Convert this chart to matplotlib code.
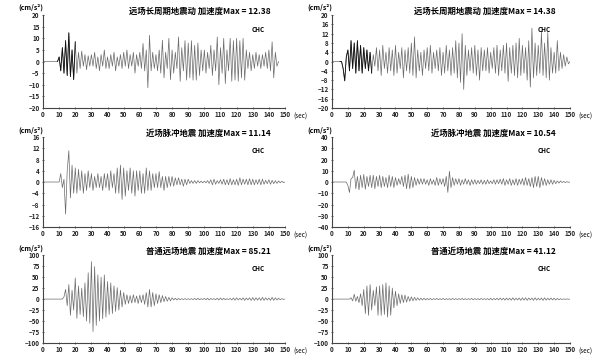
import numpy as np
import matplotlib
matplotlib.use('Agg')
import matplotlib.pyplot as plt

# CJK title text needs a CJK font, DejaVu as fallback
plt.rcParams['font.family'] = ['Noto Sans CJK SC', 'DejaVu Sans']

# waveform peaks: start time (s), one peak every 1 s
dt = 1.0

start_1 = 10
acc_1 = [2, -4, 6, -5, 9, -6, 12.38, -6.5, 5, -7.8,
         8.5, -5, 4, -3, 4.5, -2, 3, -3.5, 2.5, -2,
         3, -2, 4, -3, 2, -4, 3, -2, 5, -3,
         2, -3, 3, -2, 4, -4, 2, -2, 3, -3,
         4, -2, 5, -3, 3, -2, 4, -5, 3, -2,
         4, -3, 7.8, -4, 5, -11.3, 11.3, -4, 4, -3,
         3, -4, 5, -5, 9.2, -7, 4, -3, 10, -7.8,
         5, -5, 4, -3, 10.6, -8.5, 6, -4, 9, -8,
         8, -7, 9, -8, 7, -8, 8, -6, 5, -4,
         5, -5, 4, -3, 7, -6, 5, -4, 10.6, -10,
         6, -5, 10, -9.5, 5, -4, 10, -8.5, 9, -8,
         10, -8.5, 9, -7, 10, -8, 5, -3, 4, -4,
         3, -3, 4, -2, 3, -3, 3, -2, 4, -3,
         5, -4, 8.5, -7, 4, -2, 0]

start_2 = 6
acc_2 = [0, -3, -8.3, 2, 5, -4, 9, -3, 8, -5,
         9, -4, 7, -5, 6, -3, 5, -4, 4, -5,
         3, -2, 6, -4, 5, -6, 7, -3, 4, -5,
         6, -4, 5, -6, 7, -5, 4, -3, 6, -7,
         5, -4, 6, -5, 8, -6, 10.6, -7, 5, -4,
         4, -6, 5, -3, 6, -4, 7, -5, 4, -3,
         5, -4, 6, -6, 4, -5, 7, -4, 5, -6,
         6, -5, 9, -7, 8, -9, 12, -12, 7, -6,
         5, -4, 6, -5, 7, -6, 5, -8, 6, -4,
         5, -4, 6, -5, 4, -3, 6, -5, 7, -6,
         5, -4, 7, -5, 8, -8.5, 6, -5, 7, -6,
         8, -7, 10, -6, 7, -5, 6, -8, 9, -11,
         14.38, -7, 8, -6, 7, -5, 12.7, -6, 8, -7,
         12.5, -8, 6, -5, 4, -5, 9, -4, 4, -3,
         3, -2, 2, -1, 0]

start_3 = 10
acc_3 = [0, 3, -2, 1, -11.4, 4, 11.14, -5.6, 6, -4,
         5, -4, 4.5, -3, 4, -4, 3, -3, 4, -2,
         3, -3, 2, -2, 3, -2, 2, -3, 3, -2,
         3, -3, 4, -2, 3, -4, 5, -4, 6, -6.2,
         5, -5, 4, -3, 5, -4, 4, -5, 4, -3,
         4, -4, 3, -4, 5, -3, 4, -3, 3, -2,
         3, -2, 3.7, -2, 2, -3, 2, -2, 2, -1.5,
         2, -1.5, 1.5, -1, 1.5, -1, 1, -1.5, 1, -1,
         1, -0.5, 0.5, -0.5, 0.5, -0.5, 0.5, -0.3, 0.3, -0.3,
         0.3, -0.3, 0.5, -0.5, 0.8, -1, 1, -0.8, 0.5, -0.5,
         0.8, -0.8, 1, -1, 0.8, -1, 1.2, -1, 0.8, -1,
         1, -1.2, 1.5, -1, 1, -0.8, 1, -1, 1.2, -1,
         1, -1, 0.8, -0.8, 1, -1, 1, -0.8, 0.6, -0.6,
         0.8, -0.8, 0.6, -0.6, 0.5, -0.5, 0.4, -0.3, 0.3, -0.2, 0]

start_4 = 9
acc_4 = [0, -3, -9.3, 3, 4, 10.54, -6, 5, -7, 6,
         -5, 6.7, -6.4, 5, -4, 6, -5, 6, -6, 5,
         -4, 6, -5, 5, -4, 4, -5, 6, -4, 5,
         -5, 4, -3, 3, -2, 5, -4, 6, -6, 7,
         -6, 5, -5, 4, -3, 3, -2, 3, -2, 3,
         -2, 2, -3, 3, -2, 2, -3, 4, -3, 3,
         -2, 3, -4, 5, -9.3, 9.6, -5, 4, -3, 3,
         -2, 3, -3, 2, -2, 3, -2, 2, -3, 2,
         -2, 2, -2, 1.5, -1.5, 2, -2, 1.5, -2, 2,
         -1.5, 1, -1.5, 2, -2, 2, -1.5, 2.5, -2, 3,
         -3, 2, -2, 3, -3, 2, -2.5, 3, -3, 2.5,
         -2, 3, -3, 4, -3, 3, -4, 4, -5, 5,
         -4, 5, -5, 4, -3, 3, -3, 2, -2, 2,
         -2, 1.5, -1.5, 1, -1, 1, -0.5, 0.5, -0.5, 0.3,
         -0.2, 0]

start_5 = 12
acc_5 = [0, 5, 22, -15, 33, -37, 20, -25, 48, -44,
         30, -35, 25, -40, 37, -50, 60, -55, 85.21, -74,
         74, -60, 55, -50, 50, -45, 55, -41, 40, -35,
         37, -33, 30, -28, 26, -25, 20, -18, 15, -12,
         10, -10, 8, -9, 10, -8, 7, -10, 9, -8,
         10, -12, 15, -18, 22, -18, 15, -15, 12, -10,
         10, -8, 8, -6, 6, -5, 4, -4, 3, -2,
         2, -2, 1.5, -1.5, 1, -1, 1, -1, 0.8, -0.8,
         0.8, -1, 1.5, -1.5, 2, -1.5, 1, -1, 1.5, -1.5,
         2, -2, 1.5, -1, 1, -1.5, 2, -2, 2.5, -2,
         2, -1.5, 1, -1, 1.5, -2, 2.5, -2.5, 3, -2,
         2, -2, 3, -3, 2.5, -2, 3, -3, 3.5, -3,
         3, -2.5, 3, -3, 4, -3, 3, -2, 2.5, -3,
         4, -3, 3, -2, 2, -1.5, 1, -0.5, 0]

start_6 = 11
acc_6 = [0, 3, -4, 11, -5, 6, -8, 12, -15, 22,
         -33, 30, -37, 33, -25, 20, -15, 28, -37, 30,
         -37, 33, -35, 37, -41.12, 30, -37, 25, -20, 18,
         -15, 12, -10, 10, -8, 9, -7, 6, -5, 5,
         -4, 4, -3, 3, -2.5, 2, -2, 2, -2, 1.5,
         -1.5, 1.5, -1.5, 1, -1, 1.5, -1.5, 1, -1, 1.5,
         -1.5, 1, -1, 1, -1.5, 1.5, -1, 1, -1, 1,
         -1, 1.5, -1.5, 1, -1, 1, -1, 1.5, -1.5, 1,
         -1, 1, -1.5, 1.5, -1, 1, -1, 1, -1.5, 2,
         -2, 1.5, -1.5, 2, -2, 2.5, -2, 2, -2.5, 2.5,
         -2, 2, -2.5, 3, -2.5, 2, -2, 2.5, -3, 3,
         -2.5, 3, -3, 2.5, -2, 2.5, -3, 3, -2.5, 2,
         -2, 2.5, -3, 3, -2.5, 2, -2, 2.5, -2, 2,
         -2, 1.5, -1.5, 1, -1, 0.5, -0.5, 0.3, -0.2, 0]

starts = [start_1, start_2, start_3, start_4, start_5, start_6]
waves = [acc_1, acc_2, acc_3, acc_4, acc_5, acc_6]
dark_n = [11, 20, 0, 0, 0, 0]   # early part drawn darker in the top row

titles = ['远场长周期地震动 加速度Max = 12.38',
          '远场长周期地震动 加速度Max = 14.38',
          '近场脉冲地震 加速度Max = 11.14',
          '近场脉冲地震 加速度Max = 10.54',
          '普通远场地震 加速度Max = 85.21',
          '普通近场地震 加速度Max = 41.12']
ylims = [20, 20, 16, 40, 100, 100]
ysteps = [5, 4, 4, 10, 25, 25]
xticks = list(range(0, 151, 10))

fig = plt.figure(figsize=(6.04, 3.6), dpi=100)

# axes boxes (left, bottom, width, height)
lefts = [0.0712, 0.5497]
widths = [0.4007, 0.394]
rows = [(0.700, 0.258), (0.3694, 0.25), (0.0472, 0.244)]

for k in range(6):
    r, c = k // 2, k % 2
    ax = fig.add_axes([lefts[c], rows[r][0], widths[c], rows[r][1]])

    # flat line before the first arrival, then the peaks
    t = [0, starts[k] - dt] + list(starts[k] + np.arange(len(waves[k])) * dt)
    a = [0, 0] + waves[k]
    ax.plot(t, a, color='#6a6a6a', lw=0.5)
    if dark_n[k] > 0:
        ax.plot(t[1:dark_n[k] + 2], a[1:dark_n[k] + 2], color='#111111', lw=0.6)

    lim = ylims[k]
    ax.set_xlim(0, 150)
    ax.set_ylim(-lim, lim)
    ax.set_xticks(xticks)
    ax.set_yticks(np.arange(-lim, lim + 0.1, ysteps[k]))
    ax.tick_params(labelsize=4.5, length=2, width=0.5, direction='inout',
                   pad=1.5, colors='#222222')
    for lab in ax.get_xticklabels() + ax.get_yticklabels():
        lab.set_fontweight('bold')
    for s in ['top', 'right']:
        ax.spines[s].set_visible(False)
    for s in ['left', 'bottom']:
        ax.spines[s].set_linewidth(0.8)
        ax.spines[s].set_color('#444444')

    ax.text(0.0, 1.08, '(cm/s²)', transform=ax.transAxes, ha='right',
            va='center', fontsize=5, fontweight='bold')
    ax.text(1.035, -0.05, '(sec)', transform=ax.transAxes, ha='left',
            va='top', fontsize=4.5)
    ax.text(0.94, 1.04, titles[k], transform=ax.transAxes, ha='right',
            va='center', fontsize=6, fontweight='bold')
    ax.text(0.89, 0.85, 'CHC', transform=ax.transAxes, ha='center',
            va='center', fontsize=4.5, fontweight='bold')

fig.savefig('out.png', dpi=100)
